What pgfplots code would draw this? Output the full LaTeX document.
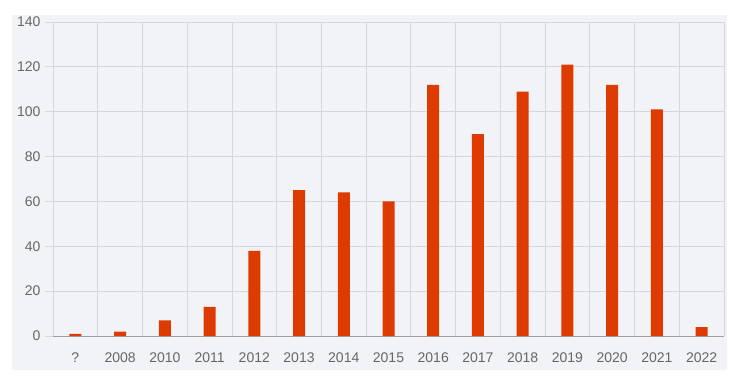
\documentclass[border=0pt]{standalone}
\usepackage{pgfplots}
\pgfplotsset{compat=1.18}
\usepackage{fontspec}
\setmainfont{Liberation Sans}
\definecolor{panel}{HTML}{F2F3F7}
\definecolor{gridc}{HTML}{D6D7DC}
\definecolor{axisc}{HTML}{A0A0A4}
\definecolor{barc}{HTML}{DD3B00}
\definecolor{labc}{HTML}{666666}
\begin{document}
\begin{tikzpicture}[x=1pt,y=1pt]
\fill[white] (0,0) rectangle (740,376);
\useasboundingbox (0,0) rectangle (740,376);
\fill[panel] (12,6) rectangle (727,361);
\begin{axis}[
  at={(53pt,40pt)}, anchor=south west,
  scale only axis, width=671pt, height=314pt,
  xmin=-0.5, xmax=14.5, ymin=0, ymax=140,
  axis lines*=left,
  axis line style={axisc, line width=0.8pt},
  xtick={0,...,14},
  xticklabels={?,2008,2010,2011,2012,2013,2014,2015,2016,2017,2018,2019,2020,2021,2022},
  x tick style={draw=none},
  extra x ticks={-0.5,0.5,...,14.5},
  extra x tick labels={},
  extra x tick style={grid=major, major grid style={gridc, line width=0.8pt}, tick style={draw=gridc, line width=0.8pt}, major tick length=12pt, tick align=outside},
  ytick={0,20,...,140},
  ymajorgrids,
  major grid style={gridc, line width=0.8pt},
  y tick style={draw=gridc, line width=0.8pt},
  tick align=outside,
  major tick length=8pt,
  /pgf/number format/assume math mode=true,
  tick label style={font=\fontsize{14}{16}\selectfont, text=labc},
  xticklabel style={yshift=-5pt},
  yticklabel style={xshift=-1pt},
  ybar, bar width=12pt,
  clip=false,
]
\addplot[fill=barc, draw=none] coordinates {
(0,1) (1,2) (2,7) (3,13) (4,38) (5,65) (6,64) (7,60) (8,112) (9,90) (10,109) (11,121) (12,112) (13,101) (14,4)
};
\end{axis}
\end{tikzpicture}
\end{document}
